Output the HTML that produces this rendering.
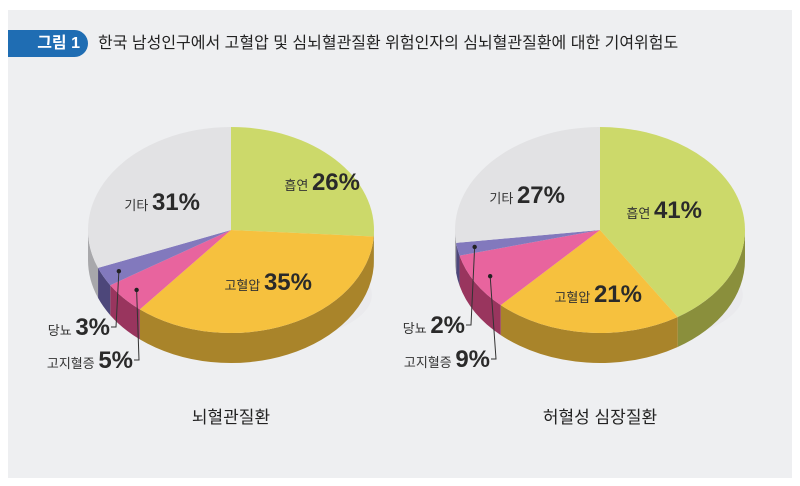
<!DOCTYPE html>
<html><head><meta charset="utf-8">
<style>
html,body{margin:0;padding:0;background:#fff;}
body{width:800px;height:486px;overflow:hidden;font-family:"Liberation Sans","Noto Sans CJK KR",sans-serif;}
#panel{position:absolute;left:8px;top:10px;width:784px;height:468px;background:#eeeff1;}
#badge{position:absolute;left:8px;top:30px;width:80px;height:27px;background:#1f6db3;border-radius:0 14px 14px 0;color:#fff;font-weight:bold;font-size:16px;line-height:27px;text-align:right;padding-right:8px;box-sizing:border-box;}
#title{position:absolute;left:98px;top:31px;font-size:16px;color:#222;line-height:25px;}
svg{position:absolute;left:0;top:0;}
</style></head>
<body>
<div id="panel"></div>
<div id="badge">그림 1</div>
<div id="title">한국 남성인구에서 고혈압 및 심뇌혈관질환 위험인자의 심뇌혈관질환에 대한 기여위험도</div>
<svg id="chart" width="800" height="486"></svg>
<script>
const categories = ["흡연","고혈압","고지혈증","당뇨","기타"];
const strokeValues = [26,35,5,3,31];
const heartValues = [41,21,9,2,27];
const pieTitles = ["뇌혈관질환","허혈성 심장질환"];
const topColors = ["#ccd96a","#f6c13e","#e8649e","#8279bd","#e2e2e4"];
const sideColors = ["#8a8f3c","#a9842a","#99355e","#4d477a","#a8a8ab"];
const NS="http://www.w3.org/2000/svg";
const svg=document.getElementById('chart');
function mk(tag,attrs,parent){const e=document.createElementNS(NS,tag);for(const k in attrs)e.setAttribute(k,attrs[k]);(parent||svg).appendChild(e);return e;}
function pt(p,deg,dy,f){const r=deg*Math.PI/180;f=f||1;return [p.cx+f*p.rx*Math.sin(r),p.cy-f*p.ry*Math.cos(r)+(dy||0)];}
// label anchor positions (right edge x, baseline y) — layout only
const pies=[
 {cx:231,cy:230,rx:143,ry:103,d:30,values:strokeValues,title:pieTitles[0],tx:231,
  labels:[[360,190],[312,290],[133,368],[110,335],[200,210]]},
 {cx:600,cy:230,rx:145,ry:103,d:30,values:heartValues,title:pieTitles[1],tx:600,
  labels:[[702,218],[642,302],[490,367],[465,333],[565,203]]}
];
pies.forEach((p,pi)=>{
  const g=mk('g',{});
  
  
  const sh=mk('ellipse',{cx:p.cx+5,cy:p.cy+p.d+35,rx:p.rx*0.95,ry:p.ry*0.5,fill:'#e6e6e9',opacity:0.5},g);
  
  
  const total=p.values.reduce((a,b)=>a+b,0);
  let a=0;const angs=[];
  p.values.forEach(v=>{const a2=a+v/total*360;angs.push([a,a2]);a=a2;});
  angs.forEach(([a1,a2],i)=>{
    const s=Math.max(a1,90),e=Math.min(a2,270);
    if(e<=s)return;
    const A=pt(p,s),B=pt(p,e),C=pt(p,e,p.d),D=pt(p,s,p.d);
    const path=`M${A[0]},${A[1]} A${p.rx},${p.ry} 0 0 1 ${B[0]},${B[1]} L${C[0]},${C[1]} A${p.rx},${p.ry} 0 0 0 ${D[0]},${D[1]} Z`;
    const el=mk('path',{d:path,fill:sideColors[i]},g);
    
    
  });
  angs.forEach(([a1,a2],i)=>{
    const A=pt(p,a1),B=pt(p,a2);
    const large=(a2-a1)>180?1:0;
    const el=mk('path',{d:`M${p.cx},${p.cy} L${A[0]},${A[1]} A${p.rx},${p.ry} 0 ${large} 1 ${B[0]},${B[1]} Z`,fill:topColors[i]},g);
    
    
  });
  p.values.forEach((v,i)=>{
    const L=p.labels[i];
    if(i==2||i==3){
      const m=(angs[i][0]+angs[i][1])/2;
      const P=pt(p,m,0,0.88);
      const ex=L[0]+6, ey=L[1]-8;
      const ln=mk('polyline',{points:`${P[0]},${P[1]} ${ex},${ey} ${ex-5},${ey}`,fill:'none',stroke:'#333','stroke-width':1},g);
      
      
      const dot=mk('circle',{cx:P[0],cy:P[1],r:2.2,fill:'#222'},g);
      
      
    }
    const t=mk('text',{x:L[0],y:L[1],fill:'#333','font-size':13,'text-anchor':'end'},g);
    
    
    const t1=mk('tspan',{},t);t1.textContent=categories[i]+' ';
    const t2=mk('tspan',{'font-size':24,'font-weight':'bold',fill:'#2a2a2a'},t);t2.textContent=v+'%';
  });
  const tt=mk('text',{x:p.tx,y:423,'text-anchor':'middle','font-size':17,fill:'#222'},g);
  
  
  tt.textContent=p.title;
});
</script>
</body></html>
